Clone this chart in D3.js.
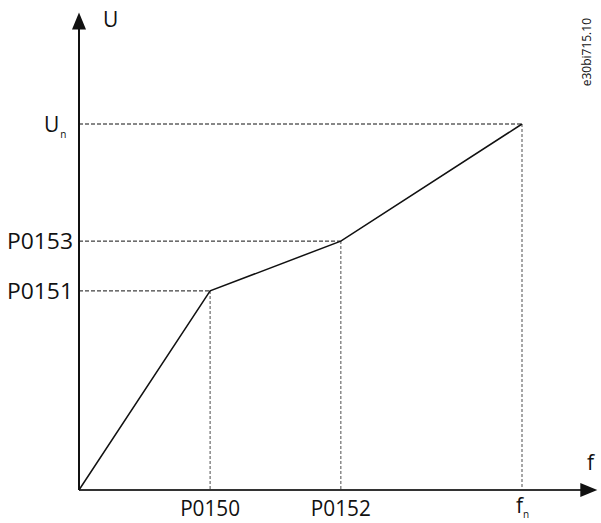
<!DOCTYPE html>
<html><head><meta charset="utf-8">
<script src="https://cdn.jsdelivr.net/npm/d3@7"></script>
<style>body{margin:0;background:#fff}svg{display:block}text{font-family:"Open Sans",sans-serif;fill:#111}</style>
</head><body>
<script>
// data
const fValues = [0, 0.296, 0.591, 1.0];
const uValues = [0, 0.544, 0.680, 1.0];
const fLabels = ["", "P0150", "P0152", "f"];
const uLabels = ["", "P0151", "P0153", "U"];
const subLabels = ["", "", "", "n"];

const W = 601, H = 523;
const svg = d3.select("body").append("svg").attr("width", W).attr("height", H);
const x = d3.scaleLinear().domain([0, 1]).range([79, 522]);
const y = d3.scaleLinear().domain([0, 1]).range([490, 124]);
const xMax = 1.17, yMax = 1.31;

// dashed guides
for (let i = 1; i < fValues.length; i++) {
  svg.append("line").attr("x1", x(0)).attr("x2", x(fValues[i]))
    .attr("y1", y(uValues[i])).attr("y2", y(uValues[i]))
    .attr("stroke", "#111").attr("stroke-width", 1).attr("stroke-dasharray", "4,2");
  svg.append("line").attr("x1", x(fValues[i])).attr("x2", x(fValues[i]))
    .attr("y1", y(uValues[i])).attr("y2", y(0))
    .attr("stroke", "#777").attr("stroke-width", 1.3).attr("stroke-dasharray", "3,2");
}

// axes
svg.append("line").attr("x1", x(0)).attr("x2", x(xMax) - 10).attr("y1", y(0)).attr("y2", y(0))
  .attr("stroke", "#333").attr("stroke-width", 2);
svg.append("line").attr("x1", x(0)).attr("x2", x(0)).attr("y1", y(0)).attr("y2", y(yMax) + 10)
  .attr("stroke", "#111").attr("stroke-width", 2);
const ax = x(xMax), ay = y(0);
svg.append("path").attr("d", `M${ax},${ay} L${ax-17},${ay-7} L${ax-17},${ay+7} Z`).attr("fill", "#111");
const bx = x(0), by = y(yMax) + 2;
svg.append("path").attr("d", `M${bx},${by} L${bx-7},${by+17} L${bx+7},${by+17} Z`).attr("fill", "#111");

// curve
svg.append("path").datum(fValues.map((f, i) => [f, uValues[i]]))
  .attr("d", d3.line().x(d => x(d[0])).y(d => y(d[1])))
  .attr("fill", "none").attr("stroke", "#111").attr("stroke-width", 1.5);

// labels
const fs = 21;
for (let i = 1; i < 3; i++) {
  svg.append("text").attr("x", x(fValues[i])).attr("y", 516).attr("text-anchor", "middle")
    .attr("font-size", fs).attr("textLength", 60).attr("lengthAdjust", "spacingAndGlyphs").text(fLabels[i]);
  svg.append("text").attr("x", 73).attr("y", y(uValues[i]) + 8).attr("text-anchor", "end")
    .attr("font-size", fs).attr("textLength", 66).attr("lengthAdjust", "spacingAndGlyphs").text(uLabels[i]);
}
// fn
const tfn = svg.append("text").attr("x", x(1) - 6).attr("y", 513).attr("font-size", fs);
tfn.append("tspan").text(fLabels[3]);
tfn.append("tspan").attr("font-size", 10).attr("dy", 5).text(subLabels[3]);
// Un
const tun = svg.append("text").attr("x", 44).attr("y", y(1) + 8).attr("font-size", fs);
tun.append("tspan").text(uLabels[3]);
tun.append("tspan").attr("font-size", 10).attr("dy", 6).attr("dx", 1).text(subLabels[3]);
// axis names
svg.append("text").attr("x", 103).attr("y", 27).attr("font-size", fs).text("U");
svg.append("text").attr("x", 587).attr("y", 470).attr("font-size", fs).text("f");
// code label
svg.append("text").attr("transform", "translate(591,18) rotate(-90)").attr("text-anchor", "end")
  .attr("font-size", 12).text("e30bi715.10");
</script>
</body></html>
